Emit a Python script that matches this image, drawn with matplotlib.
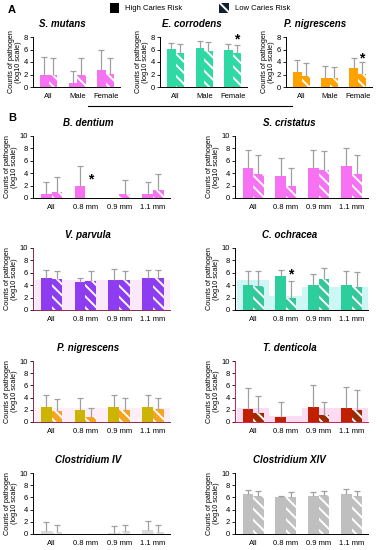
import numpy as np
import matplotlib
matplotlib.use("Agg")
import matplotlib.pyplot as plt
from matplotlib.patches import Rectangle

plt.rcParams['font.family'] = ['Liberation Sans', 'DejaVu Sans']
plt.rcParams['hatch.linewidth'] = 1.4

# ---- data ----
sex_groups = ["All", "Male", "Female"]
size_groups = ["All", "0.8 mm", "0.9 mm", "1.1 mm"]

# panel A (log10 counts), high / low caries risk, bar height and top of error bar
smut_hi = [1.9, 0.65, 2.8]
smut_hi_err = [4.8, 2.55, 5.9]
smut_lo = [2.0, 2.0, 2.1]
smut_lo_err = [4.7, 4.7, 4.7]

ecor_hi = [6.1, 6.3, 6.0]
ecor_hi_err = [7.1, 7.4, 6.9]
ecor_lo = [5.5, 5.7, 5.5]
ecor_lo_err = [6.9, 7.2, 6.8]

pnigA_hi = [2.4, 1.5, 3.0]
pnigA_hi_err = [4.3, 3.3, 4.7]
pnigA_lo = [1.8, 1.4, 2.1]
pnigA_lo_err = [3.8, 3.2, 4.0]

# panel B
bden_hi = [0.6, 2.0, 0.0, 0.6]
bden_hi_err = [2.6, 5.2, 0.0, 2.6]
bden_lo = [0.9, 0.0, 0.7, 1.3]
bden_lo_err = [3.4, 0.0, 2.9, 3.9]

scri_hi = [4.9, 3.5, 4.9, 5.2]
scri_hi_err = [7.8, 6.5, 7.7, 8.0]
scri_lo = [3.9, 1.9, 4.5, 3.9]
scri_lo_err = [7.0, 4.9, 7.6, 6.9]

vpar_hi = [5.1, 4.5, 4.8, 5.2]
vpar_hi_err = [6.5, 5.2, 6.6, 6.5]
vpar_lo = [5.0, 4.7, 4.9, 5.2]
vpar_lo_err = [6.3, 6.3, 6.3, 6.4]
vpar_shade = [4.9, 4.9, 4.9, 4.9]

coch_hi = [4.1, 5.5, 4.0, 4.0]
coch_hi_err = [6.3, 6.5, 5.8, 6.3]
coch_lo = [3.9, 2.0, 5.0, 3.7]
coch_lo_err = [6.3, 4.6, 6.7, 6.1]
coch_shade = [4.9, 2.3, 3.7, 3.7]

pnigB_hi = [2.4, 1.9, 2.5, 2.5]
pnigB_hi_err = [4.4, 3.9, 4.5, 4.4]
pnigB_lo = [1.8, 0.8, 1.9, 2.1]
pnigB_lo_err = [3.8, 2.3, 3.9, 4.0]
pnigB_shade = [2.3, 2.3, 2.3, 2.3]

tden_hi = [2.2, 0.8, 2.5, 2.3]
tden_hi_err = [5.6, 3.2, 6.1, 5.7]
tden_lo = [1.5, 0.0, 1.1, 2.0]
tden_lo_err = [4.3, 0.0, 3.3, 5.3]
tden_shade = [2.3, 1.0, 2.3, 2.3]

cl4_hi = [0.5, 0.0, 0.2, 0.7]
cl4_hi_err = [1.9, 0.0, 1.3, 2.2]
cl4_lo = [0.4, 0.0, 0.5, 0.4]
cl4_lo_err = [1.5, 0.0, 1.5, 1.5]

cl14_hi = [6.5, 6.1, 6.2, 6.6]
cl14_hi_err = [7.2, 6.3, 6.9, 7.4]
cl14_lo = [6.3, 6.0, 6.4, 6.2]
cl14_lo_err = [7.0, 6.9, 7.0, 7.0]

W, H = 377, 550
fig = plt.figure(figsize=(W / 100, H / 100), dpi=100)


def rect(x0, x1, ytop, ybot):
    return [x0 / W, 1 - ybot / H, (x1 - x0) / W, (ybot - ytop) / H]


def panel(pos, title, labels, hi, hi_err, lo, lo_err, c_hi, c_lo, ymax,
          width, title_x, shade=None, shade_col=None, stars=(), spine_col='black'):
    ax = fig.add_axes(pos)
    x = np.arange(len(labels))
    if shade is not None:
        ax.bar(x, shade, width=1.0, color=shade_col, zorder=0)
    ax.bar(x - width / 2, hi, width=width, color=c_hi, zorder=2)
    ax.bar(x + width / 2, lo, width=width, color=c_lo, edgecolor='white',
           hatch='\\\\\\', linewidth=0, zorder=2)
    for xs, h, e in ((x - width / 2, hi, hi_err), (x + width / 2, lo, lo_err)):
        h = np.array(h)
        e = np.array(e)
        keep = e > 0
        eb = ax.errorbar(xs[keep], h[keep], yerr=[np.zeros(keep.sum()), (e - h)[keep]],
                         fmt='none', ecolor='#a0a0a0', elinewidth=0.9,
                         capsize=2.2, capthick=0.9, zorder=3)
        eb[1][0].set_visible(False)
    for i, y in stars:
        ax.text(x[i] + width / 2, y, "*", ha='center', va='center',
                fontsize=10, fontweight='bold')
    ax.set_xlim(-0.55, len(labels) - 0.5)
    ax.set_ylim(0, ymax)
    ax.set_yticks(np.arange(0, ymax + 1, 2))
    ax.set_xticks(x)
    ax.set_xticklabels(labels)
    ax.tick_params(axis='x', length=0, labelsize=5.5, pad=4)
    ax.tick_params(axis='y', length=2, width=0.6, labelsize=5.5, pad=1.5)
    for s in ('top', 'right'):
        ax.spines[s].set_visible(False)
    for s in ('left', 'bottom'):
        ax.spines[s].set_linewidth(0.7)
        ax.spines[s].set_color(spine_col)
    ax.set_title(title, fontsize=7, fontweight='bold', style='italic', pad=7,
                 x=title_x)
    ax.set_ylabel("Counts of pathogen\n(log10 scale)", fontsize=5.2, labelpad=1.5,
                  linespacing=1.0)
    return ax


pink = '#f772f3'
green = '#2fd9a3'
orange = '#ffa200'

panel(rect(33, 120, 37, 87), "S. mutans", sex_groups, smut_hi, smut_hi_err,
      smut_lo, smut_lo_err, pink, pink, 8, 0.3, 0.34)
panel(rect(160, 247, 37, 87), "E. corrodens", sex_groups, ecor_hi, ecor_hi_err,
      ecor_lo, ecor_lo_err, green, green, 8, 0.3, 0.36, stars=[(2, 7.6)])
panel(rect(286, 372, 37, 87), "P. nigrescens", sex_groups, pnigA_hi, pnigA_hi_err,
      pnigA_lo, pnigA_lo_err, orange, orange, 8, 0.3, 0.34, stars=[(2, 4.5)])

lx0, lx1, rx0, rx1 = 33, 170, 235, 368
rows = [(136, 198), (248, 310), (361, 422), (473, 534)]
tl, tr = 0.40, 0.41

panel(rect(lx0, lx1, *rows[0]), "B. dentium", size_groups, bden_hi, bden_hi_err,
      bden_lo, bden_lo_err, pink, pink, 10, 0.32, tl, stars=[(1, 3.0)])
panel(rect(rx0, rx1, *rows[0]), "S. cristatus", size_groups, scri_hi, scri_hi_err,
      scri_lo, scri_lo_err, pink, pink, 10, 0.32, tr)
panel(rect(lx0, lx1, *rows[1]), "V. parvula", size_groups, vpar_hi, vpar_hi_err,
      vpar_lo, vpar_lo_err, '#8e3cf2', '#8e3cf2', 10, 0.32, tl,
      shade=vpar_shade, shade_col='#fbe8fb', spine_col='#8a2a4a')
panel(rect(rx0, rx1, *rows[1]), "C. ochracea", size_groups, coch_hi, coch_hi_err,
      coch_lo, coch_lo_err, '#2ccf9c', '#35c79a', 10, 0.32, tr,
      shade=coch_shade, shade_col='#cdf7f4', stars=[(1, 5.8)])
panel(rect(lx0, lx1, *rows[2]), "P. nigrescens", size_groups, pnigB_hi, pnigB_hi_err,
      pnigB_lo, pnigB_lo_err, '#ccb400', '#f5a320', 10, 0.32, tl,
      shade=pnigB_shade, shade_col='#fdeef8', spine_col='#8a2a4a')
panel(rect(rx0, rx1, *rows[2]), "T. denticola", size_groups, tden_hi, tden_hi_err,
      tden_lo, tden_lo_err, '#c01f00', '#9c2a00', 10, 0.32, tr,
      shade=tden_shade, shade_col='#fcdcf2', spine_col='#d02050')
panel(rect(lx0, lx1, *rows[3]), "Clostridium IV", size_groups, cl4_hi, cl4_hi_err,
      cl4_lo, cl4_lo_err, '#d9d9d9', '#d9d9d9', 10, 0.32, tl)
panel(rect(rx0, rx1, *rows[3]), "Clostridium XIV", size_groups, cl14_hi, cl14_hi_err,
      cl14_lo, cl14_lo_err, '#bfbfbf', '#bfbfbf', 10, 0.32, tr)

# panel letters
fig.text(8 / W, 1 - 10 / H, "A", fontsize=8, fontweight='bold', va='center')
fig.text(8 / W, 1 - 118 / H, "B", fontsize=8, fontweight='bold', va='center')

# legend
fig.patches.append(Rectangle((110 / W, 1 - 13 / H), 9 / W, 10 / H,
                             transform=fig.transFigure, facecolor='black'))
fig.text(125 / W, 1 - 9 / H, "High Caries Risk", fontsize=5.5, va='center')
fig.patches.append(Rectangle((219 / W, 1 - 13 / H), 10 / W, 10 / H,
                             transform=fig.transFigure, facecolor='#102030',
                             edgecolor='white', hatch='\\\\', linewidth=0))
fig.text(235 / W, 1 - 9 / H, "Low Caries Risk", fontsize=5.5, va='center')

# separator line below panel A
fig.add_artist(plt.Line2D([88 / W, 292 / W], [1 - 106 / H, 1 - 106 / H],
                          transform=fig.transFigure, color='black', lw=0.8))

fig.savefig("out.png", dpi=100, facecolor='white')
